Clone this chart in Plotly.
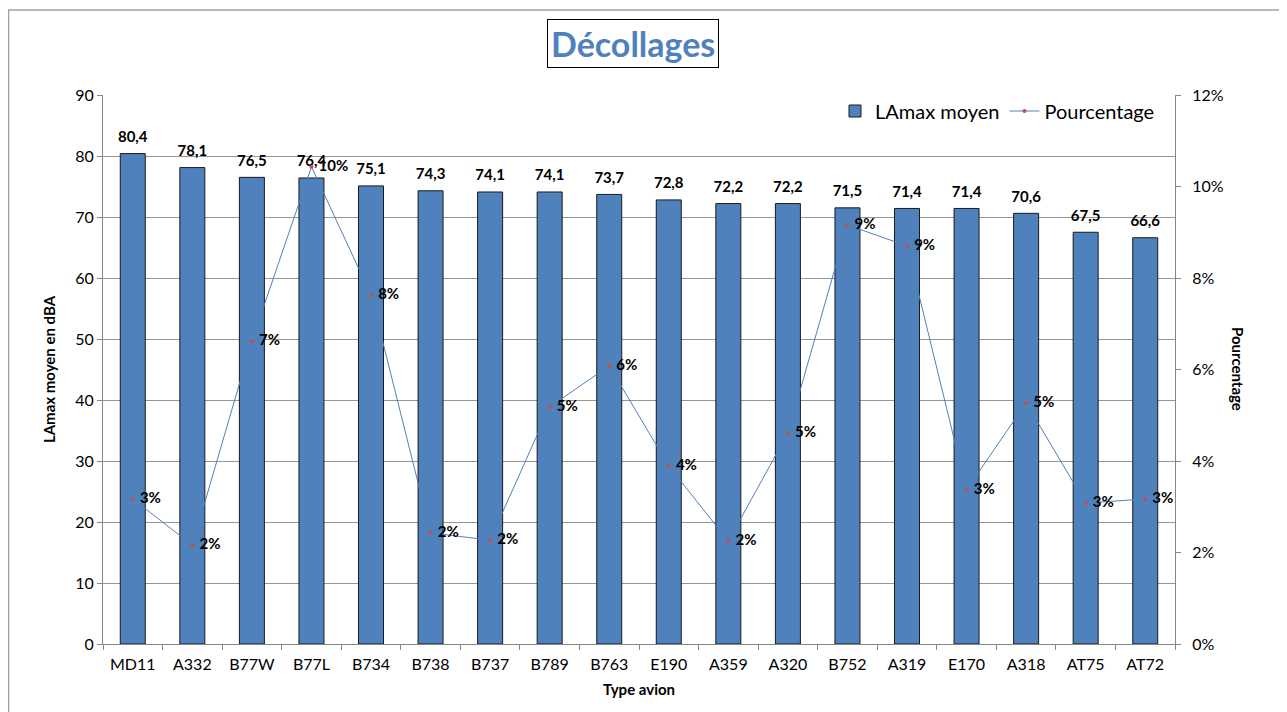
import plotly.graph_objects as go

categories = ["MD11", "A332", "B77W", "B77L", "B734", "B738", "B737", "B789", "B763",
              "E190", "A359", "A320", "B752", "A319", "E170", "A318", "AT75", "AT72"]
lamax = [80.4, 78.1, 76.5, 76.4, 75.1, 74.3, 74.1, 74.1, 73.7,
         72.8, 72.2, 72.2, 71.5, 71.4, 71.4, 70.6, 67.5, 66.6]
pourcentage = [0.0317, 0.0216, 0.0662, 0.1043, 0.0763, 0.0243, 0.0227, 0.0518, 0.0608,
               0.0389, 0.0225, 0.0461, 0.0916, 0.0870, 0.0337, 0.0527, 0.0308, 0.0317]

bar_text = [f"{v:.1f}".replace(".", ",") for v in lamax]
pct_text = [f"{round(p * 100)}%" for p in pourcentage]

FONT = "Lato"
OFF = 8  # page body margin
W, H = 1287 - OFF, 712 - OFF
L, T = 103 - OFF, 95 - OFF
R = W - (1175 - OFF)
B = H - (644 - OFF)
pw, ph = W - L - R, H - T - B

def px_x(x):
    return (x - OFF - L) / pw

def px_y(y):
    return (H - B - (y - OFF)) / ph

fig = go.Figure()
fig.add_trace(go.Bar(
    x=categories, y=lamax, name="LAmax moyen",
    marker=dict(color="#4F81BD", line=dict(color="#1a1a1a", width=1)),
    yaxis="y",
))
# value labels above the bars
fig.add_trace(go.Scatter(
    x=categories, y=lamax, mode="markers+text", showlegend=False, hoverinfo="skip",
    marker=dict(size=11, opacity=0),
    text=bar_text, textposition="top center",
    textfont=dict(family=FONT, size=15, color="black", weight="bold"),
    cliponaxis=False, yaxis="y",
))
fig.add_trace(go.Scatter(
    x=categories, y=pourcentage, name="Pourcentage",
    mode="lines+markers+text",
    line=dict(color="#4F81BD", width=1),
    marker=dict(color="#C0504D", size=4),
    text=[" " + t for t in pct_text], textposition="middle right",
    textfont=dict(family=FONT, size=15, color="black", weight="bold"),
    cliponaxis=False, yaxis="y2",
))

fig.update_layout(
    width=W, height=H,
    margin=dict(l=L, r=R, t=T, b=B, autoexpand=False),
    paper_bgcolor="white", plot_bgcolor="white",
    font=dict(family=FONT, size=16, color="black"),
    bargap=0.58,
    showlegend=True,
    legend=dict(orientation="h", x=px_x(1160), xanchor="right", y=px_y(111), yanchor="middle",
                font=dict(size=20, family=FONT), bgcolor="rgba(0,0,0,0)",
                itemwidth=30, traceorder="normal"),
    xaxis=dict(
        range=[-0.5, 17.5], automargin=False,
        showline=True, linecolor="#868686", linewidth=1,
        ticks="outside", ticklen=5, tickcolor="#868686", tickson="boundaries",
        tickfont=dict(size=16), ticklabelstandoff=6,
        title=dict(text="Type avion", font=dict(size=15, weight="bold"), standoff=12),
    ),
    yaxis=dict(
        range=[0, 90], dtick=10, showgrid=True, gridcolor="#969696", gridwidth=1,
        automargin=False,
        showline=True, linecolor="#868686", ticks="outside", ticklen=5,
        tickcolor="#868686", tickfont=dict(size=16), zeroline=False,
        title=dict(text="LAmax moyen en dBA", font=dict(size=15, weight="bold"), standoff=15),
    ),
    yaxis2=dict(
        range=[0, 0.12], dtick=0.02, tickformat=".0%", overlaying="y", side="right",
        automargin=False, ticklabelstandoff=8,
        showgrid=False, showline=True, linecolor="#868686", ticks="outside", ticklen=5,
        tickcolor="#868686", tickfont=dict(size=16), zeroline=False,
    ),
    annotations=[
        dict(text="Décollages", x=px_x(633), y=px_y(44), xref="paper", yref="paper",
             xanchor="center", yanchor="middle", showarrow=False,
             font=dict(size=34, color="#4F81BD", family=FONT, weight="bold"),
             bordercolor="black", borderwidth=1, borderpad=3, bgcolor="white"),
        dict(text="Pourcentage", x=px_x(1238), y=px_y(369), xref="paper", yref="paper",
             xanchor="center", yanchor="middle", showarrow=False, textangle=90,
             font=dict(size=15, weight="bold", family=FONT)),
    ],
    shapes=[
        dict(type="rect", xref="paper", yref="paper",
             x0=px_x(8.5), x1=px_x(1300), y0=px_y(730), y1=px_y(10),
             line=dict(color="#a0a0a0", width=1.5), layer="below"),
    ],
)

fig.write_html("out.html")
